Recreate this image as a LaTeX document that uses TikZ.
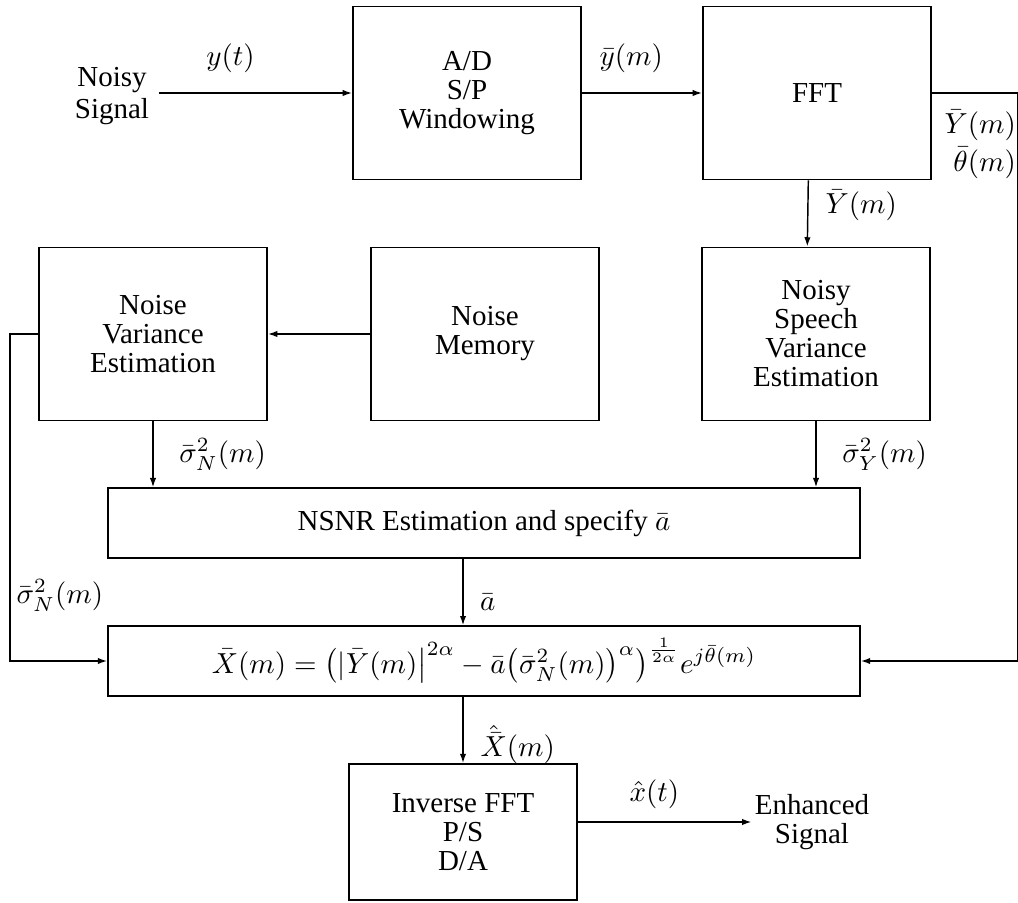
\documentclass[tikz,border=0pt]{standalone}
\usepackage{fontspec}
\setmainfont{Liberation Serif}
\usetikzlibrary{arrows.meta}

\begin{document}
\begin{tikzpicture}[x=0.345pt,y=-0.345pt,font=\fontsize{10}{10}\selectfont,
  blk/.style={draw,line width=0.65pt,minimum width=78.7pt,minimum height=59.7pt,
              align=center,inner sep=1pt},
  wide/.style={draw,line width=0.65pt,minimum width=259.4pt,minimum height=24pt,inner sep=1pt},
  sig/.style={line width=0.5pt,-{Latex[length=3.2pt,width=2.2pt]}}]
  \useasboundingbox (0,0) rectangle (1018,903);
  % blocks
  \foreach \nm/\x/\y/\txt in {ad/467/93/{A/D\\S/P\\Windowing}, fft/817/93/{FFT},
      nve/153/334/{Noise\\Variance\\Estimation}, nmem/485/334/{Noise\\Memory},
      nsve/816/334/{Noisy\\Speech\\Variance\\Estimation}}
    \node[blk] (\nm) at (\x,\y) {\txt};
  \node[wide] (nsnr) at (484,523) {NSNR Estimation and specify $\bar a$};
  \node[wide] (est) at (484,661)
    {$\bar X(m)=\bigl(|\bar Y(m)\bigr|^{2\alpha}-\bar a\bigl(\bar\sigma_N^2(m)\bigr)^{\alpha}\bigr)^{\frac{1}{2\alpha}}e^{j\bar\theta(m)}$};
  \node[blk,minimum height=46.9pt] (ifft) at (463,832) {Inverse FFT\\P/S\\D/A};
  % in / out
  \node[align=center,font=\fontsize{10}{11}\selectfont] (insig) at (112,96) {Noisy\\Signal};
  \node[align=center,inner sep=1pt] (outsig) at (812,822) {Enhanced\\Signal};

  % signal path
  \draw[sig] (insig.east |- ad.west) -- node[above=3.5pt,pos=0.37] {$y(t)$} (ad.west);
  \draw[sig] (ad.east) -- node[above=3.5pt,pos=0.41] {$\bar y(m)$} (fft.west);
  \draw[sig] ([xshift=-3pt]fft.south) -- node[right=2.5pt,pos=0.38] {$\bar Y(m)$} ([xshift=-3pt]nsve.north);
  \draw[sig] (nmem.west) -- (nve.east);
  \draw[sig] (nve.south) -- node[right=5.5pt] {$\bar\sigma_N^2(m)$} (nve.south |- nsnr.north);
  \draw[sig] (nsve.south) -- node[right=5.5pt] {$\bar\sigma_Y^2(m)$} (nsve.south |- nsnr.north);
  \draw[sig] (nsnr.south -| ifft) -- node[right=2.3pt,pos=0.65] {$\bar a$} (est.north -| ifft);
  \draw[sig] (est.south -| ifft) -- node[right=2.5pt,pos=0.72] {$\hat{\bar X}(m)$} (ifft.north);
  \draw[sig] (ifft.east |- outsig.west) -- node[above=1pt,pos=0.44] {$\hat x(t)$} (outsig.west);
  % side loops
  \draw[sig] (nve.west) -- ++(-28,0) |- node[pos=0.4,right,inner sep=2pt] {$\bar\sigma_N^2(m)$} (est.west);
  \draw[sig] (fft.east) -- ++(86,0) |- node[pos=0.045,left,inner sep=0.5pt,align=right,
      font=\fontsize{10}{13}\selectfont] {$\bar Y(m)$\\$\bar\theta(m)$} (est.east);
\end{tikzpicture}
\end{document}
